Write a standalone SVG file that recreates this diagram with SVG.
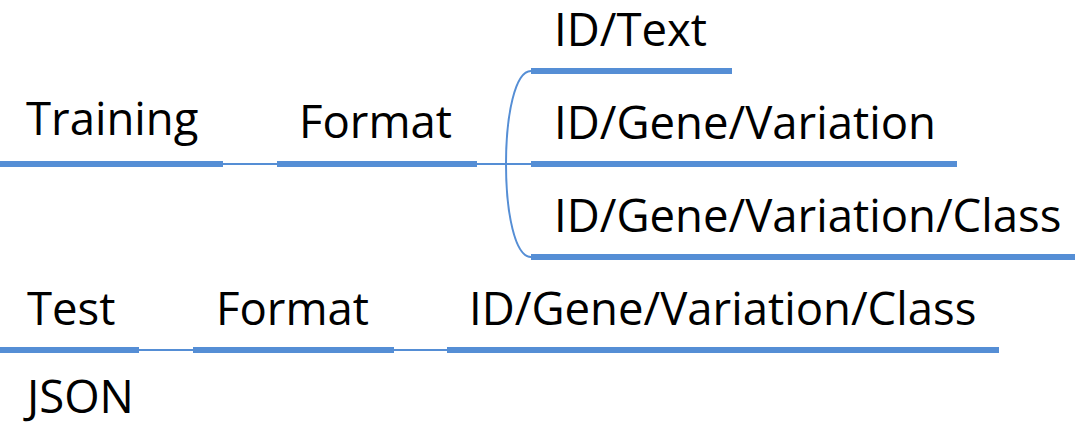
<svg xmlns="http://www.w3.org/2000/svg" width="1075" height="439" viewBox="0 0 1075 439">
<style>
.t{font-family:"Open Sans","Noto Sans","Liberation Sans",sans-serif;font-size:45.5px;fill:#000}
.u{stroke:#558ED5;stroke-width:6;fill:none}
.c{stroke:#558ED5;stroke-width:2;fill:none}
</style>
<rect width="1075" height="439" fill="#fff"/>
<g id="connectors">
<path class="c" d="M223,164 H277"/>
<path class="c" d="M477,164 H531"/>
<path class="c" d="M531,71 C515,71 506,115 506,164 C506,213 515,257 531,257"/>
<path class="c" d="M139,350 H193"/>
<path class="c" d="M394,350 H447"/>
</g>
<g id="training"><text class="t" x="26" y="135">Training</text><line class="u" x1="0" y1="164" x2="223" y2="164"/></g>
<g id="format1"><text class="t" x="299" y="138">Format</text><line class="u" x1="277" y1="164" x2="477" y2="164"/></g>
<g id="idtext"><text class="t" x="554" y="46">ID/Text</text><line class="u" x1="531" y1="71" x2="732" y2="71"/></g>
<g id="idgenevar"><text class="t" x="554" y="139">ID/Gene/Variation</text><line class="u" x1="531" y1="164" x2="957" y2="164"/></g>
<g id="idgenevarclass1"><text class="t" x="554" y="232">ID/Gene/Variation/Class</text><line class="u" x1="531" y1="257" x2="1075" y2="257"/></g>
<g id="test"><text class="t" x="27" y="325">Test</text><line class="u" x1="0" y1="350" x2="139" y2="350"/></g>
<g id="format2"><text class="t" x="216" y="325">Format</text><line class="u" x1="193" y1="350" x2="394" y2="350"/></g>
<g id="idgenevarclass2"><text class="t" x="469" y="325">ID/Gene/Variation/Class</text><line class="u" x1="447" y1="350" x2="999" y2="350"/></g>
<g id="json"><text class="t" x="27" y="413">JSON</text></g>
</svg>
